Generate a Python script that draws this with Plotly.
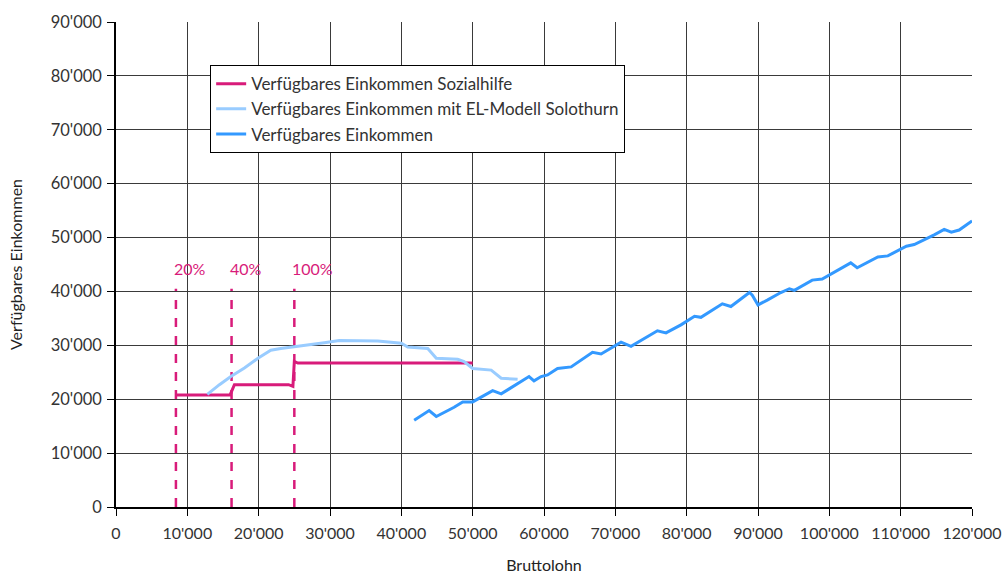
import plotly.graph_objects as go

# Sozialhilfe: available income under social assistance (step function)
sozial_x = [8400, 16000, 16600, 24200, 24800, 25000, 25500, 50000]
sozial_y = [20800, 20800, 22700, 22700, 22400, 27000, 26700, 26700]

# Available income with the EL model (Solothurn)
el_x = [12800, 14500, 16100, 18000, 19900, 21700, 23100, 25000, 27000, 29200, 31300,
        33000, 36700, 40000, 40900, 43700, 44900, 47900, 48800, 50000, 52600, 54000, 56300]
el_y = [20900, 22700, 24200, 25800, 27600, 29100, 29400, 29700, 30100, 30500, 30900,
        30900, 30800, 30400, 29700, 29400, 27600, 27400, 27000, 25700, 25400, 23900, 23700]

# Available income without assistance
ek_x = [41800, 43900, 44900, 47400, 48600, 50000, 52800, 54000, 57900, 58600, 59600,
        60500, 61900, 62800, 63800, 66800, 68000, 70800, 72200, 75900, 77100, 79200,
        81100, 82000, 85000, 86200, 88800, 89200, 90000, 91300, 93200, 94400, 95100,
        97600, 99000, 103000, 103900, 106800, 108200, 110800, 111900, 114700, 116100,
        117100, 118200, 120000]
ek_y = [16100, 17900, 16800, 18500, 19500, 19500, 21600, 21000, 24200, 23400, 24200,
        24500, 25700, 25900, 26000, 28700, 28400, 30600, 29800, 32700, 32300, 33800,
        35400, 35200, 37700, 37200, 39800, 39300, 37500, 38400, 39800, 40500, 40200,
        42100, 42300, 45300, 44400, 46400, 46600, 48400, 48700, 50500, 51500, 51000,
        51400, 53100]

# Threshold markers
threshold_x = [8400, 16200, 25000]
threshold_labels = ["20%", "40%", "100%"]
threshold_top = 40500
label_y = 44300

x_ticks = list(range(0, 120001, 10000))
y_ticks = list(range(0, 90001, 10000))

PINK = "#D81B7A"
LIGHT = "#99CCFF"
BLUE = "#3399FF"
FONT = "Lato"
TEXT = "#333333"

fig = go.Figure()

for tx in threshold_x:
    fig.add_trace(go.Scatter(
        x=[tx, tx], y=[0, threshold_top], mode="lines",
        line=dict(color=PINK, width=2.5, dash="dash"),
        showlegend=False, hoverinfo="skip"))

fig.add_trace(go.Scatter(x=sozial_x, y=sozial_y, mode="lines",
                         name="Verfügbares Einkommen Sozialhilfe",
                         line=dict(color=PINK, width=3)))
fig.add_trace(go.Scatter(x=el_x, y=el_y, mode="lines",
                         name="Verfügbares Einkommen mit EL-Modell Solothurn",
                         line=dict(color=LIGHT, width=3)))
fig.add_trace(go.Scatter(x=ek_x, y=ek_y, mode="lines",
                         name="Verfügbares Einkommen",
                         line=dict(color=BLUE, width=3)))

for tx, lab in zip(threshold_x, threshold_labels):
    fig.add_annotation(x=tx, y=label_y, text=lab, showarrow=False,
                       xanchor="left", xshift=-4,
                       font=dict(family=FONT, size=16, color=PINK))

fig.update_layout(
    width=1005, height=574,
    margin=dict(l=116, r=33, t=22, b=67, autoexpand=False),
    paper_bgcolor="white", plot_bgcolor="white",
    separators=".'",
    font=dict(family=FONT, size=16, color=TEXT),
    legend=dict(x=0.11, y=0.911, xanchor="left", yanchor="top",
                bgcolor="white", bordercolor="black", borderwidth=1,
                font=dict(family=FONT, size=17, color=TEXT),
                tracegroupgap=0),
    xaxis=dict(range=[0, 120000], tickvals=x_ticks, tickformat=",d",
               showgrid=True, gridcolor="#3a3a3a", gridwidth=1,
               showline=True, linecolor="black", linewidth=1.5,
               ticks="outside", ticklen=7, tickcolor="black",
               ticklabelstandoff=4, automargin=False,
               tickfont=dict(family=FONT, size=16, color=TEXT),
               zeroline=False,
               title=dict(text="Bruttolohn", standoff=20,
                          font=dict(family=FONT, size=16, color="#222"))),
    yaxis=dict(range=[0, 90000], tickvals=y_ticks, tickformat=",d",
               showgrid=True, gridcolor="#3a3a3a", gridwidth=1,
               showline=True, linecolor="black", linewidth=1.5,
               ticks="outside", ticklen=7, tickcolor="black",
               ticklabelstandoff=2, automargin=False,
               tickfont=dict(family=FONT, size=16.5, color=TEXT),
               zeroline=False,
               title=dict(text="Verfügbares Einkommen", standoff=24,
                          font=dict(family=FONT, size=16, color="#222"))),
)

fig.write_html("out.html")
